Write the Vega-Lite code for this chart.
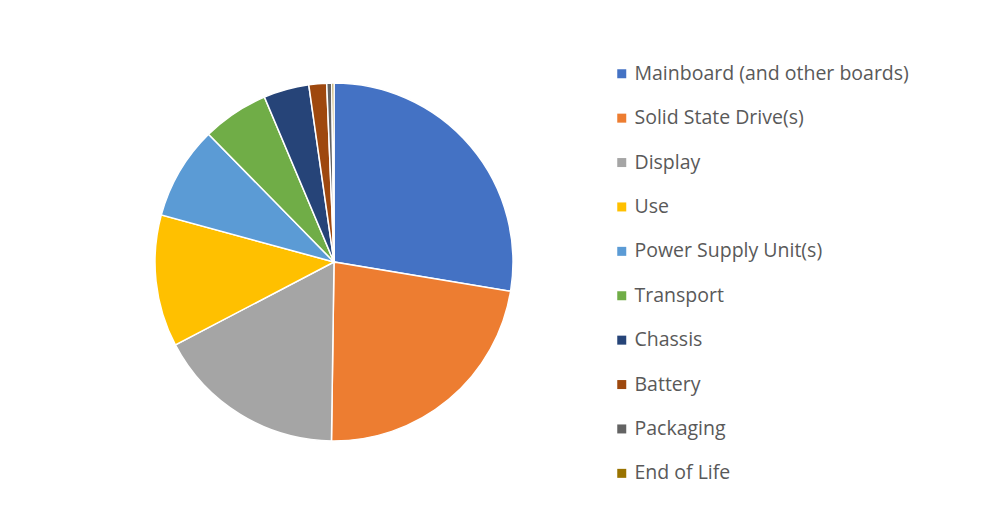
{
  "$schema": "https://vega.github.io/schema/vega-lite/v6.json",
  "width": 668,
  "height": 524,
  "autosize": {"type": "none"},
  "padding": {"left": 0, "top": 0, "right": 321, "bottom": 0},
  "background": "white",
  "config": {"view": {"stroke": null}},
  "data": {
    "values": [
      {"idx": 1, "component": "Mainboard (and other boards)", "share": 27.6},
      {"idx": 2, "component": "Solid State Drive(s)", "share": 22.6},
      {"idx": 3, "component": "Display", "share": 17.1},
      {"idx": 4, "component": "Use", "share": 11.9},
      {"idx": 5, "component": "Power Supply Unit(s)", "share": 8.4},
      {"idx": 6, "component": "Transport", "share": 6.0},
      {"idx": 7, "component": "Chassis", "share": 4.1},
      {"idx": 8, "component": "Battery", "share": 1.6},
      {"idx": 9, "component": "Packaging", "share": 0.45},
      {"idx": 10, "component": "End of Life", "share": 0.2}
    ]
  },
  "mark": {"type": "arc", "outerRadius": 179, "stroke": "white", "strokeWidth": 1.5},
  "encoding": {
    "theta": {"field": "share", "type": "quantitative", "stack": true},
    "order": {"field": "idx", "type": "quantitative"},
    "color": {
      "field": "component",
      "type": "nominal",
      "scale": {
        "domain": ["Mainboard (and other boards)", "Solid State Drive(s)", "Display", "Use", "Power Supply Unit(s)", "Transport", "Chassis", "Battery", "Packaging", "End of Life"],
        "range": ["#4472C4", "#ED7D31", "#A5A5A5", "#FFC000", "#5B9BD5", "#70AD47", "#264478", "#9E480E", "#636363", "#997300"]
      },
      "legend": {
        "orient": "none",
        "legendX": 612,
        "legendY": 64,
        "title": null,
        "symbolType": "square",
        "symbolSize": 81,
        "symbolStrokeWidth": 0,
        "labelFont": "Open Sans",
        "labelFontSize": 19.5,
        "labelColor": "#595959",
        "labelOffset": 3,
        "rowPadding": 23.4,
        "labelLimit": 400
      }
    }
  }
}
